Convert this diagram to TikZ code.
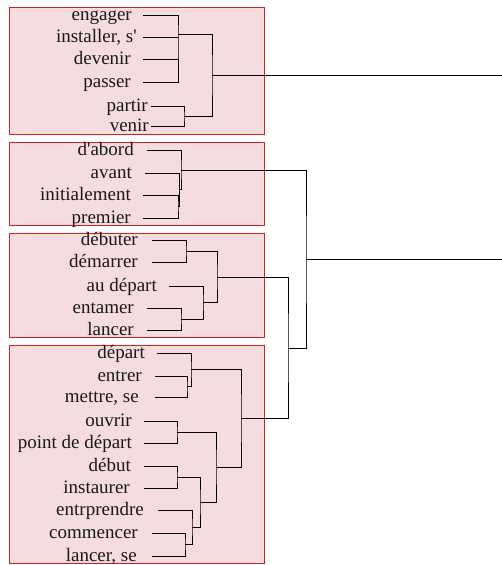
\documentclass[tikz,border=0pt]{standalone}
\usepackage{fontspec}
\setmainfont{Liberation Serif}[Ligatures=TeXOff]
\definecolor{boxfill}{HTML}{F5DCDE}
\definecolor{boxline}{HTML}{D0201F}
\newcommand{\mkleaf}[5]{%
  \coordinate (#1) at (#3,#4);
  \node[lbl] (#1-t) at (#2,{#4+5.5}) {#5};
}
\begin{document}
\begin{tikzpicture}[x=1pt,y=-1pt,
  lbl/.style={anchor=base east,inner sep=0pt,text=black!90,font=\fontsize{19}{21}\selectfont},
  grp/.style={draw=boxline,fill=boxfill,line width=1pt},
  dl/.style={draw=black,line width=0.9pt}]
\useasboundingbox (0,0) rectangle (502,565);
% group boxes
\node[grp,inner sep=0pt,minimum width=255pt,minimum height=127.5pt,anchor=north west] (g1) at (9,6.5) {};
\node[grp,inner sep=0pt,minimum width=255pt,minimum height=83pt,anchor=north west] (g2) at (9,142) {};
\node[grp,inner sep=0pt,minimum width=255pt,minimum height=104pt,anchor=north west] (g3) at (9,233) {};
\node[grp,inner sep=0pt,minimum width=255pt,minimum height=218pt,anchor=north west] (g4) at (9,345) {};
% leaves
\mkleaf{eng}{132}{143}{15}{engager}
\mkleaf{ins}{137}{143}{37}{installer, s'}
\mkleaf{dev}{131}{143}{59}{devenir}
\mkleaf{pas}{131}{143}{82}{passer}
\mkleaf{par}{148}{151}{106}{partir}
\mkleaf{ven}{149}{151}{126}{venir}
\mkleaf{dab}{134}{147}{150}{d'abord}
\mkleaf{ava}{132}{145}{173}{avant}
\mkleaf{ini}{131}{143}{195}{initialement}
\mkleaf{pre}{131}{143}{218}{premier}
\mkleaf{deb}{138}{152}{240}{débuter}
\mkleaf{dem}{138}{152}{262}{démarrer}
\mkleaf{aud}{157}{169}{286}{au départ}
\mkleaf{ent}{134}{147}{308}{entamer}
\mkleaf{lan}{134}{147}{330}{lancer}
\mkleaf{dep}{145}{157}{353}{départ}
\mkleaf{etr}{142}{155}{376}{entrer}
\mkleaf{met}{139}{155}{397}{mettre, se}
\mkleaf{ouv}{132}{144}{421}{ouvrir}
\mkleaf{pdd}{132}{144}{443}{point de départ}
\mkleaf{dbt}{131}{144}{466}{début}
\mkleaf{isr}{130}{144}{488}{instaurer}
\mkleaf{epr}{144}{158}{510}{entrprendre}
\mkleaf{com}{138}{152}{533}{commencer}
\mkleaf{lse}{137}{152}{556}{lancer, se}
% merge points
\coordinate (m1a) at (178,34);
\coordinate (m1c) at (184,116);
\coordinate (m1b) at (212,75);
\coordinate (r1) at (502,75);
\coordinate (m2a) at (178,206.5);
\coordinate (m2b) at (179.5,189.5);
\coordinate (m2c) at (181,170);
\coordinate (m3a) at (186,251);
\coordinate (m3b) at (181,319);
\coordinate (m3c) at (203,302.5);
\coordinate (m3d) at (217,277);
\coordinate (m4a) at (187,386.5);
\coordinate (m4b) at (191,369.5);
\coordinate (m4c) at (177,432);
\coordinate (m4d) at (177,477);
\coordinate (m4e) at (185,544.5);
\coordinate (m4f) at (192,527);
\coordinate (m4g) at (200,502);
\coordinate (m4h) at (216,467);
\coordinate (m4i) at (241,418.5);
\coordinate (m5) at (288,348);
\coordinate (m6) at (306,259);
\coordinate (r2) at (502,259);
% dendrogram
\draw[dl] (eng) -| (m1a) |- (pas);
\draw[dl] (ins) -- (ins -| m1a);
\draw[dl] (dev) -- (dev -| m1a);
\draw[dl] (par) -| (m1c) |- (ven);
\draw[dl] (m1a) -| (m1b) |- (m1c);
\draw[dl] (m1b) -- (r1);
\draw[dl] (ini) -| (m2a) |- (pre);
\draw[dl] (ava) -| (m2b) |- (m2a);
\draw[dl] (dab) -| (m2c) |- (m2b);
\draw[dl] (deb) -| (m3a) |- (dem);
\draw[dl] (ent) -| (m3b) |- (lan);
\draw[dl] (aud) -| (m3c) |- (m3b);
\draw[dl] (m3a) -| (m3d) |- (m3c);
\draw[dl] (etr) -| (m4a) |- (met);
\draw[dl] (dep) -| (m4b) |- (m4a);
\draw[dl] (ouv) -| (m4c) |- (pdd);
\draw[dl] (dbt) -| (m4d) |- (isr);
\draw[dl] (com) -| (m4e) |- (lse);
\draw[dl] (epr) -| (m4f) |- (m4e);
\draw[dl] (m4d) -| (m4g) |- (m4f);
\draw[dl] (m4c) -| (m4h) |- (m4g);
\draw[dl] (m4b) -| (m4i) |- (m4h);
\draw[dl] (m3d) -| (m5) |- (m4i);
\draw[dl] (m2c) -| (m6) |- (m5);
\draw[dl] (m6) -- (r2);
\end{tikzpicture}
\end{document}
